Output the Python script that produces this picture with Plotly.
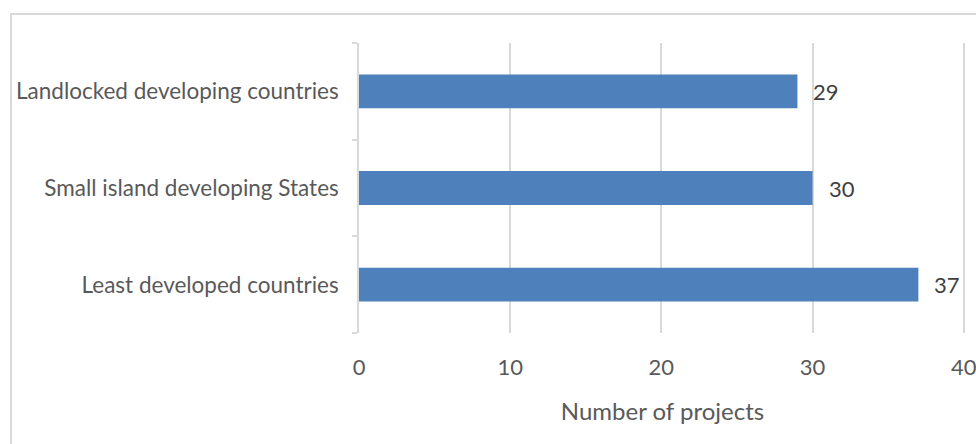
import plotly.graph_objects as go

categories = ["Least developed countries", "Small island developing States", "Landlocked developing countries"]
values = [37, 30, 29]
x_ticks = [0, 10, 20, 30, 40]
x_title = "Number of projects"

FONT = "Lato"
fig = go.Figure()
fig.add_trace(go.Bar(
    y=categories, x=values, orientation="h",
    marker=dict(color="#4E80BC", line=dict(width=0)),
    width=0.35, hoverinfo="skip",
))
for c, v in zip(categories, values):
    fig.add_annotation(x=v, y=c, text=str(v), showarrow=False, xanchor="left",
                       xshift=14, font=dict(family=FONT, size=22, color="#404040"))

fig.update_layout(
    width=976, height=444,
    margin=dict(l=359, r=10, t=43, b=111, autoexpand=False),
    paper_bgcolor="white", plot_bgcolor="white",
    showlegend=False,
    font=dict(family=FONT, size=22.5, color="#595959"),
    shapes=[dict(type="rect", xref="paper", yref="paper",
                 x0=(11 - 359) / 607, x1=1.2, y0=-0.6, y1=(333 - 14) / 290,
                 line=dict(color="#D9D9D9", width=2), layer="below")],
)
fig.update_xaxes(
    range=[0, 40.15], tickvals=x_ticks, showgrid=True, gridcolor="#D9D9D9", gridwidth=1.5,
    zeroline=False, showline=False, ticks="", ticklabelstandoff=19, automargin=False,
    ticklabeloverflow="allow",
    tickfont=dict(family=FONT, size=22, color="#595959"),
    title=dict(text=x_title, standoff=24, font=dict(family=FONT, size=24, color="#595959")),
)
fig.update_yaxes(
    type="category", categoryorder="array", categoryarray=categories,
    showline=True, linecolor="#D9D9D9", linewidth=1.5, automargin=False,
    ticks="outside", tickson="boundaries", ticklen=5, tickcolor="#D9D9D9", tickwidth=1.5,
    showgrid=False, ticklabelstandoff=14,
    tickfont=dict(family=FONT, size=22.5, color="#595959"),
)
fig.write_html("out.html")
